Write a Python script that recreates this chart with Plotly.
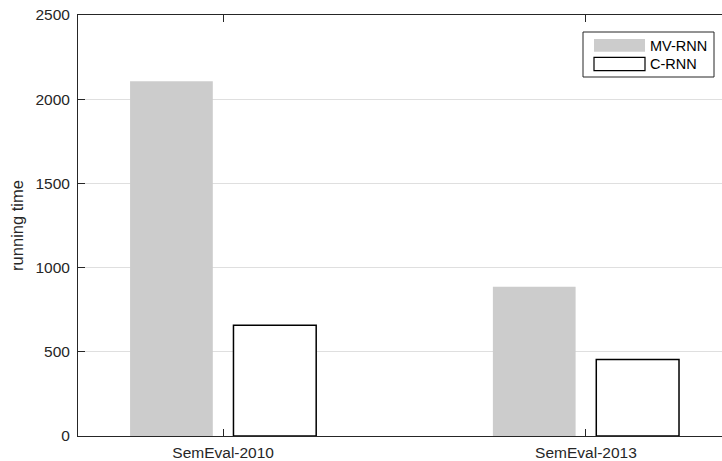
import plotly.graph_objects as go

categories = ["SemEval-2010", "SemEval-2013"]
mv_rnn = [2107, 887]
c_rnn = [657, 455]
series_names = ["MV-RNN", "C-RNN"]
y_ticks = [0, 500, 1000, 1500, 2000, 2500]

FONT = "Liberation Sans, Arial, sans-serif"
AX = "#262626"
GRID = "#dfdfdf"
GRAY = "#cccccc"

fig = go.Figure()
fig.add_trace(go.Bar(x=categories, y=mv_rnn, name=series_names[0],
                     marker=dict(color=GRAY, line=dict(width=0)),
                     width=0.228, offset=-0.2565, showlegend=False))
fig.add_trace(go.Bar(x=categories, y=c_rnn, name=series_names[1],
                     marker=dict(color="white", line=dict(color="black", width=1.5)),
                     width=0.228, offset=0.0285, showlegend=False))

# manual legend (MATLAB style)
lx0, lx1, ly0, ly1 = 583, 714, 32, 77
W, H = 722, 461
ml, mt, mb = 78, 15, 25
pw, ph = W - ml, H - mt - mb

def px(x):
    return (x - ml) / pw

def py(y):
    return 1 - (y - mt) / ph

shapes = [
    dict(type="rect", xref="paper", yref="paper", x0=px(lx0), x1=px(lx1), y0=py(ly1), y1=py(ly0),
         line=dict(color=AX, width=1), fillcolor="white", layer="above"),
    dict(type="rect", xref="paper", yref="paper", x0=px(594), x1=px(645), y0=py(51.7), y1=py(39),
         line=dict(width=0), fillcolor=GRAY, layer="above"),
    dict(type="rect", xref="paper", yref="paper", x0=px(594), x1=px(645), y0=py(70.7), y1=py(57.3),
         line=dict(color="black", width=1.2), fillcolor="white", layer="above"),
]
annotations = [
    dict(xref="paper", yref="paper", x=px(648), y=py(45.5), text=series_names[0], showarrow=False,
         xanchor="left", yanchor="middle", font=dict(family=FONT, size=14.5, color="black")),
    dict(xref="paper", yref="paper", x=px(648), y=py(64), text=series_names[1], showarrow=False,
         xanchor="left", yanchor="middle", font=dict(family=FONT, size=14.5, color="black")),
]

fig.update_layout(
    width=W, height=H,
    margin=dict(l=ml, r=0, t=mt, b=mb),
    paper_bgcolor="white", plot_bgcolor="white",
    font=dict(family=FONT, size=16, color=AX),
    shapes=shapes, annotations=annotations,
    xaxis=dict(type="category", range=[-0.4, 1.375], showline=True, linecolor=AX, linewidth=1,
               mirror="ticks", ticks="inside", ticklen=7, tickcolor=AX, showgrid=False,
               tickfont=dict(size=15.5, color=AX), ticklabelstandoff=2, automargin=False),
    yaxis=dict(range=[0, 2500], tickvals=y_ticks, showline=True, linecolor=AX, linewidth=1,
               ticks="inside", ticklen=7, tickcolor=AX, showgrid=True, gridcolor=GRID,
               zeroline=False, tickfont=dict(size=15.5, color=AX), ticklabelstandoff=4,
               automargin=False,
               title=dict(text="running time", font=dict(size=16.5, color=AX), standoff=7)),
)

fig.write_html("out.html", config={"displayModeBar": False},
               post_script="document.body.style.margin='0';")
